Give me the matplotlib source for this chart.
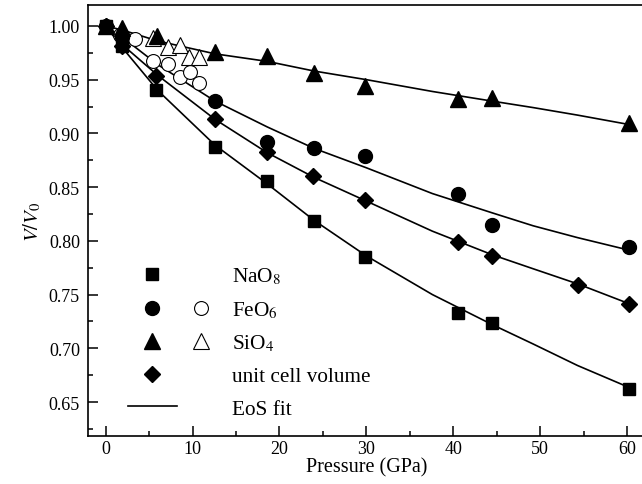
# V/V0 vs pressure, polyhedra and unit cell with EoS fits.

import matplotlib
matplotlib.use("Agg")
import matplotlib.pyplot as plt
from matplotlib.lines import Line2D
from matplotlib.legend_handler import HandlerTuple
from matplotlib.ticker import MultipleLocator

plt.rcParams["font.family"] = ["Liberation Serif", "DejaVu Serif"]
plt.rcParams["mathtext.fontset"] = "stix"

# --- data ---
p_na = [0.0, 1.9, 5.8, 12.6, 18.6, 24.0, 29.9, 40.6, 44.5, 60.2]
nao8 = [1.000, 0.981, 0.940, 0.887, 0.856, 0.818, 0.785, 0.733, 0.724, 0.662]

p_fe = [0.0, 1.9, 12.6, 18.6, 24.0, 29.9, 40.6, 44.5, 60.2]
feo6 = [1.000, 0.990, 0.930, 0.892, 0.886, 0.879, 0.844, 0.815, 0.794]

p_si = [0.0, 1.9, 5.9, 12.6, 18.6, 24.0, 29.9, 40.6, 44.5, 60.2]
sio4 = [1.000, 0.998, 0.991, 0.976, 0.972, 0.956, 0.944, 0.932, 0.933, 0.910]

p_cell = [0.0, 1.9, 5.8, 12.6, 18.6, 23.9, 29.9, 40.6, 44.5, 54.3, 60.2]
cell = [1.000, 0.981, 0.953, 0.913, 0.883, 0.860, 0.838, 0.799, 0.786, 0.759, 0.741]

p_open = [1.7, 3.4, 5.5, 7.2, 8.6, 9.7, 10.7]
feo6_open = [0.992, 0.988, 0.967, 0.965, 0.952, 0.957, 0.947]
p_open_si = [5.5, 7.2, 8.6, 9.6, 10.7]
sio4_open = [0.989, 0.980, 0.982, 0.971, 0.971]

# EoS fit curves
p_fit = [0.0, 2.0, 6.0, 12.6, 18.6, 24.0, 30.0, 37.6, 44.5, 49.2, 54.3, 60.4]
nao8_fit = [1.000, 0.979, 0.940, 0.889, 0.853, 0.819, 0.786, 0.750, 0.722, 0.704, 0.684, 0.663]
feo6_fit = [1.000, 0.989, 0.964, 0.930, 0.906, 0.886, 0.868, 0.844, 0.826, 0.814, 0.803, 0.791]
sio4_fit = [1.000, 0.996, 0.986, 0.974, 0.967, 0.958, 0.950, 0.939, 0.930, 0.924, 0.917, 0.908]
cell_fit = [1.000, 0.982, 0.954, 0.913, 0.882, 0.859, 0.837, 0.809, 0.787, 0.774, 0.760, 0.741]

fig = plt.figure(figsize=(6.42, 4.85), dpi=100)
ax = fig.add_axes([0.1374, 0.0981, 0.8664, 0.8885])

for fit in (nao8_fit, feo6_fit, sio4_fit, cell_fit):
    ax.plot(p_fit, fit, color="black", lw=1.2, zorder=1)

kw = dict(linestyle="none", color="black", zorder=3)
ax.plot(p_na, nao8, marker="s", ms=9, **kw)
ax.plot(p_fe, feo6, marker="o", ms=10, **kw)
ax.plot(p_si, sio4, marker="^", ms=11, **kw)
ax.plot(p_cell, cell, marker="D", ms=8.5, **kw)
ax.plot(p_open, feo6_open, marker="o", ms=10, mfc="white", mec="black", mew=0.8,
        linestyle="none", zorder=2)
ax.plot(p_open_si, sio4_open, marker="^", ms=11, mfc="white", mec="black", mew=0.8,
        linestyle="none", zorder=2)

ax.set_xlim(-2, 62)
ax.set_ylim(0.618, 1.019)
ax.xaxis.set_major_locator(MultipleLocator(10))
ax.xaxis.set_minor_locator(MultipleLocator(5))
ax.yaxis.set_major_locator(MultipleLocator(0.05))
ax.yaxis.set_minor_locator(MultipleLocator(0.025))
ax.tick_params(which="both", direction="in", top=False, right=False, labelsize=13)
ax.tick_params(which="major", length=7, width=1.1)
ax.tick_params(which="minor", length=3.5, width=1.1)
ax.tick_params(axis="x", which="major", pad=2.5)
ax.tick_params(axis="y", which="major", pad=6)
ax.yaxis.set_major_formatter(plt.FormatStrFormatter("%.2f"))
for s in ax.spines.values():
    s.set_linewidth(1.2)

ax.set_xlabel("Pressure (GPa)", fontsize=14.5, labelpad=0)
ax.set_ylabel(r"$V/V_0$", fontsize=15, labelpad=4)

blank = Line2D([], [], linestyle="none")
h_na = Line2D([], [], linestyle="none", marker="s", color="black", ms=9)
h_fe = Line2D([], [], linestyle="none", marker="o", color="black", ms=10)
h_fe_o = Line2D([], [], linestyle="none", marker="o", mfc="white", mec="black", ms=10, mew=0.8)
h_si = Line2D([], [], linestyle="none", marker="^", color="black", ms=11)
h_si_o = Line2D([], [], linestyle="none", marker="^", mfc="white", mec="black", ms=11, mew=0.8)
h_cell = Line2D([], [], linestyle="none", marker="D", color="black", ms=8.5)
h_fit = Line2D([], [], color="black", lw=1.2)

handles = [(h_na, blank), (h_fe, h_fe_o), (h_si, h_si_o), (h_cell, blank), (h_fit, blank)]
labels = [r"NaO$_8$", r"FeO$_6$", r"SiO$_4$", "unit cell volume", "EoS fit"]
ax.legend(handles, labels, handler_map={tuple: HandlerTuple(ndivide=None, pad=0)},
          loc="upper left", bbox_to_anchor=(128 / 642, 1 - 267 / 485),
          bbox_transform=fig.transFigure, frameon=False, fontsize=15.3,
          handlelength=4.6, handletextpad=0.3, labelspacing=0.6,
          borderpad=0, borderaxespad=0)

fig.savefig("out.png", dpi=100)
